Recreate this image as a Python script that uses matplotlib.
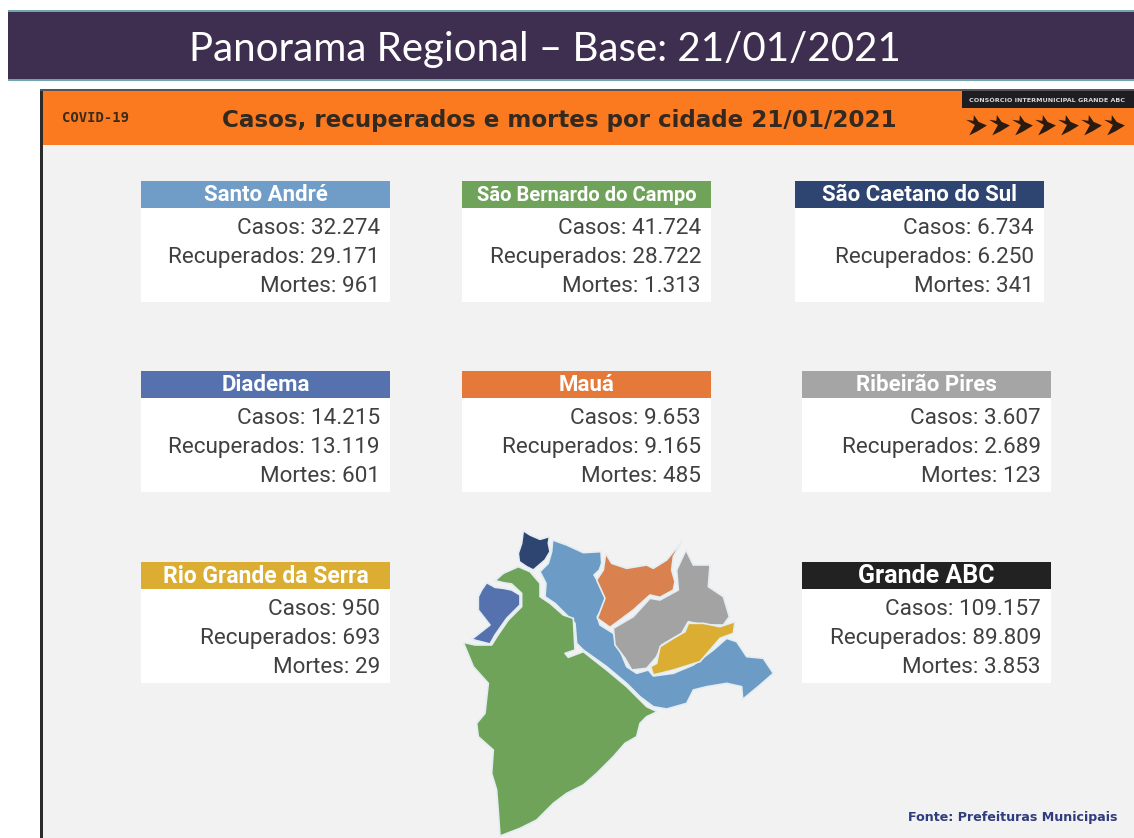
import matplotlib
matplotlib.use("Agg")
import matplotlib.pyplot as plt
from matplotlib.patches import Rectangle, Polygon
from matplotlib.path import Path

W, H = 1134, 838
TITLE = "Panorama Regional – Base: 21/01/2021"
SUBTITLE = "Casos, recuperados e mortes por cidade 21/01/2021"
TAG = "COVID-19"
LOGO = "CONSÓRCIO INTERMUNICIPAL GRANDE ABC"
SOURCE = "Fonte: Prefeituras Municipais"

cities = ["Santo André", "São Bernardo do Campo", "São Caetano do Sul", "Diadema", "Mauá",
          "Ribeirão Pires", "Rio Grande da Serra", "Grande ABC"]
casos = ["32.274", "41.724", "6.734", "14.215", "9.653", "3.607", "950", "109.157"]
recuperados = ["29.171", "28.722", "6.250", "13.119", "9.165", "2.689", "693", "89.809"]
mortes = ["961", "1.313", "341", "601", "485", "123", "29", "3.853"]
colors = ["#6F9DC8", "#70A35A", "#2D4570", "#5572AE", "#E5793A", "#A5A5A5", "#DBAE33", "#222222"]
card_x = [141, 462, 795, 141, 462, 802, 141, 802]
card_y = [181, 181, 181, 371, 371, 371, 562, 562]
head_size = [16, 14.5, 16, 16, 16, 16, 16.5, 18]

map_navy = [(250,62),(270,75),(300,88),(328,80),(325,100),(330,125),(315,150),(280,180),(260,170),(238,155),(235,130),(245,100)]
map_santo = [(338,90),(380,105),(430,128),(483,125),(485,160),(478,180),(462,195),(480,225),(497,255),(490,290),(472,320),(480,345),(520,370),(535,410),(560,470),(590,490),(625,480),(640,498),(700,490),(760,465),(820,420),(860,385),(890,395),(920,440),(970,445),(1000,490),(960,525),(908,568),(905,530),(860,520),(800,530),(760,540),(740,580),(680,597),(640,590),(600,560),(560,520),(500,470),(430,420),(410,400),(405,340),(380,315),(345,280),(315,260),(318,220),(300,185),(325,160),(335,125)]
map_green = [(235,170),(270,185),(300,220),(300,260),(330,280),(370,315),(400,325),(405,420),(375,430),(385,442),(430,425),(500,480),(560,530),(620,590),(652,605),(620,620),(600,640),(590,680),(555,700),(520,740),(470,790),(430,825),(380,850),(340,880),(290,930),(240,955),(180,978),(175,905),(170,840),(155,790),(160,720),(115,680),(110,640),(135,610),(145,520),(100,470),(70,397),(105,405),(155,405),(172,378),(205,330),(245,290),(245,250),(215,222),(190,218),(165,212),(190,190)]
map_diadema = [(140,218),(165,232),(190,235),(215,240),(240,255),(240,285),(200,325),(165,375),(150,402),(95,388),(150,345),(115,300),(115,260),(125,240)]
map_maua = [(725,95),(700,140),(695,180),(705,215),(700,240),(660,262),(630,255),(580,300),(510,352),(472,325),(495,265),(470,210),(490,180),(497,130),(515,160),(560,175),(620,165),(640,175),(680,150)]
map_ribeirao = [(738,120),(760,165),(810,165),(805,230),(850,260),(868,320),(850,345),(790,345),(745,335),(725,370),(665,405),(650,440),(620,475),(575,480),(555,445),(525,405),(520,355),(580,320),(630,265),(660,270),(715,240),(710,180)]
map_rio = [(885,335),(880,370),(840,385),(780,455),(700,480),(640,495),(632,470),(650,460),(660,410),(700,385),(735,365),(745,340),(790,340),(840,350)]
map_shapes = [(map_santo, 0), (map_green, 1), (map_navy, 2), (map_diadema, 3), (map_maua, 4), (map_ribeirao, 5), (map_rio, 6)]
map_colors = ["#6C9BC6", "#70A35A", "#2D4570", "#5572AE", "#D98250", "#A3A3A3", "#DBAE33"]
logo_x = [976, 999, 1022, 1045, 1068, 1091, 1114]

BODY = ["Roboto", "Liberation Sans", "DejaVu Sans"]

fig = plt.figure(figsize=(W / 100, H / 100), dpi=100, facecolor="white")
ax = fig.add_axes([0, 0, 1, 1])
ax.set_xlim(0, W)
ax.set_ylim(H, 0)
ax.axis("off")

def rect(x0, y0, x1, y1, c, z=1):
    ax.add_patch(Rectangle((x0, y0), x1 - x0, y1 - y0, fc=c, ec="none", zorder=z))

# title band
rect(8, 11, W, 81, "#3E2E50")
rect(8, 10, W, 12, "#6FA6AE", 2)
rect(8, 79, W, 81, "#6FA6AE", 2)
ax.text(545, 50, TITLE, color="white", family="Lato", fontsize=29, ha="center", va="center")

# panel
rect(40, 89, W, H, "#F2F2F2")
rect(40, 89, 42.5, H, "#2B2B2B", 2)
rect(40, 89, W, 91, "#555555", 2)
rect(43, 91, W, 145, "#FB7A20", 2)
ax.text(95.5, 118, TAG, color="#3A2A1A", family="DejaVu Sans Mono", weight="bold", fontsize=10, ha="center", va="center", zorder=3)
ax.text(559.5, 120, SUBTITLE, color="#33291F", family="DejaVu Sans", weight="bold", fontsize=16.6, ha="center", va="center", zorder=3)

# logo
rect(962, 91, W, 108, "#1E1E22", 3)
ax.text(1047, 100, LOGO, color="#D8D8D8", family="DejaVu Sans", weight="bold", fontsize=4.6, ha="center", va="center", zorder=4)
chevron = Path([(-1, 0.55), (-0.15, 0.05), (-0.7, -0.95), (0.1, -0.55), (1, 0.0), (0.2, 0.35), (-0.25, 1.0), (-0.3, 0.45), (-1, 0.55)], closed=True)
ax.plot(logo_x, [125] * len(logo_x), ls="none", marker=chevron, ms=15, mfc="#2A1A10", mec="none", zorder=4)

# cards
for i, city in enumerate(cities):
    x0, y0 = card_x[i], card_y[i]
    rect(x0, y0, x0 + 249, y0 + 121, "white", 2)
    rect(x0, y0, x0 + 249, y0 + 27, colors[i], 3)
    ax.text(x0 + 124.5, y0 + 14, city, color="white", family=BODY, weight="bold", fontsize=head_size[i],
            ha="center", va="center", zorder=4)
    for dy, lab, val in [(47.5, "Casos", casos[i]), (76.5, "Recuperados", recuperados[i]), (105.5, "Mortes", mortes[i])]:
        ax.text(x0 + 239, y0 + dy, f"{lab}: {val}", color="#404040", family=BODY, fontsize=16.2,
                ha="right", va="center", zorder=4)

# map
for pts, k in map_shapes:
    xy = [(440 + px / 3, 510 + py / 3) for px, py in pts]
    ax.add_patch(Polygon(xy, closed=True, fc=map_colors[k], ec="#E4EEF2", lw=1.2, joinstyle="round", zorder=5))

ax.text(1118, 817, SOURCE, color="#2F3C7E", family="DejaVu Sans", weight="bold", fontsize=9.1, ha="right", va="center", zorder=4)

fig.savefig("out.png", dpi=100, facecolor="white")
